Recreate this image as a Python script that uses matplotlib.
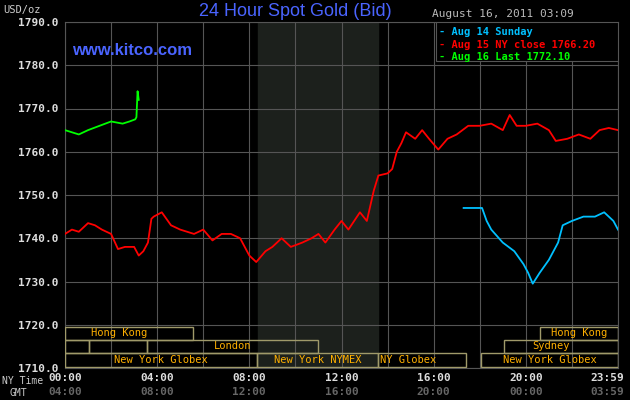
import matplotlib
matplotlib.use("Agg")
import matplotlib.pyplot as plt
from matplotlib.patches import Rectangle

red_t = [0,0.3,0.6,1,1.3,1.6,2,2.3,2.6,3,3.2,3.4,3.6,3.75,3.85,4.2,4.6,5,5.3,5.6,6,6.4,6.8,7.2,7.6,8,8.3,8.7,9,9.4,9.8,10.3,10.7,11,11.3,11.7,12,12.3,12.8,13.1,13.4,13.6,14,14.2,14.4,14.6,14.8,15.2,15.5,15.8,16.2,16.6,17,17.5,18,18.5,19,19.3,19.6,20,20.5,21,21.3,21.8,22.3,22.8,23.2,23.6,24]
red_v = [1741,1742,1741.5,1743.5,1743,1742,1741,1737.5,1738,1738,1736,1737,1739,1744.5,1745,1746,1743,1742,1741.5,1741,1742,1739.5,1741,1741,1740,1736,1734.5,1737,1738,1740,1738,1739,1740,1741,1739,1742,1744,1742,1746,1744,1751,1754.5,1755,1756,1760,1762,1764.5,1763,1765,1763,1760.5,1763,1764,1766,1766,1766.5,1765,1768.5,1766,1766,1766.5,1765,1762.5,1763,1764,1763,1765,1765.5,1765]
cyan_t = [17.3,18.1,18.3,18.5,19,19.5,19.9,20.1,20.3,20.6,21,21.4,21.6,22,22.5,23,23.4,23.8,24]
cyan_v = [1747,1747,1744,1742,1739,1737,1734,1732,1729.5,1732,1735,1739,1743,1744,1745,1745,1746,1744,1742]
green_t = [0,0.3,0.6,1,1.5,2,2.5,2.8,3.05,3.1,3.15,3.2]
green_v = [1765,1764.5,1764,1765,1766,1767,1766.5,1767,1767.5,1768,1774,1772]
y_ticks = [1710,1720,1730,1740,1750,1760,1770,1780,1790]
x_ticks = [0,4,8,12,16,20,24]
ny_labels = ["00:00","04:00","08:00","12:00","16:00","20:00","23:59"]
gmt_labels = ["04:00","08:00","12:00","16:00","20:00","00:00","03:59"]
sessions = [(0,5.56,2,"Hong Kong",0.2),(20.6,24,2,"Hong Kong",None),
            (0,1.04,1,"",None),(1.04,3.56,1,"",None),(3.56,11.0,1,"London",None),(19.05,24,1,"Sydney",0.25),
            (0,8.33,0,"New York Globex",None),(8.33,13.58,0,"New York NYMEX",None),
            (13.58,17.4,0,"NY Globex",0.05),(18.06,24,0,"New York Globex",None)]
rows = [(1710.3,1713.5),(1713.5,1716.5),(1716.5,1719.5)]

mono = "DejaVu Sans Mono"
fig = plt.figure(figsize=(6.3,4.0), dpi=100, facecolor="black")
ax = fig.add_axes([65/630, 32/400, 553/630, 346/400], facecolor="black")
ax.set_xlim(0,24); ax.set_ylim(1710,1790)
ax.axvspan(8.38,13.6,color="#1c201c",zorder=0)
for t in range(0,25,2):
    ax.axvline(t,color="#555555",lw=0.8,zorder=1)
for y in y_ticks:
    ax.axhline(y,color="#555555",lw=0.8,zorder=1)
for s,e,r,lab,al in sessions:
    y0,y1 = rows[r]
    ax.add_patch(Rectangle((s,y0),e-s,y1-y0,fill=False,ec="#a09a6a",lw=1,zorder=3))
    if lab:
        if al is None:
            ax.text((s+e)/2,(y0+y1)/2,lab,color="#ffb000",fontsize=7.5,family=mono,ha="center",va="center")
        else:
            ax.text(s+al*(e-s) if r!=0 else s+0.1,(y0+y1)/2,lab,color="#ffb000",fontsize=7.5,family=mono,ha="left",va="center")
ax.plot(red_t,red_v,color="#ff0000",lw=1.3,zorder=4)
ax.plot(cyan_t,cyan_v,color="#00c0ff",lw=1.3,zorder=4)
ax.plot(green_t,green_v,color="#00ff00",lw=1.3,zorder=4)
for sp in ax.spines.values():
    sp.set_color("#555555")
ax.set_xticks([]); ax.set_yticks(y_ticks)
ax.set_yticklabels([f"{v:.1f}" for v in y_ticks],family=mono,fontsize=8,color="#dddddd",fontweight="bold")
ax.tick_params(axis="y",length=0,pad=5)
for i,(t,a,b) in enumerate(zip(x_ticks,ny_labels,gmt_labels)):
    ha = "right" if i==len(x_ticks)-1 else "center"
    xx = t+0.25 if i==len(x_ticks)-1 else t
    ax.text(xx,1707.6,a,ha=ha,va="center",color="#dddddd",family=mono,fontsize=8,fontweight="bold",clip_on=False)
    ax.text(xx,1704.5,b,ha=ha,va="center",color="#666666",family=mono,fontsize=8,fontweight="bold",clip_on=False)
fig.text(2/630,1-381/400,"NY Time",color="#cccccc",family=mono,fontsize=7,va="center")
fig.text(10/630,1-393/400,"GMT",color="#cccccc",family=mono,fontsize=7,va="center")
fig.text(3/630,1-10/400,"USD/oz",color="#cccccc",family=mono,fontsize=7.5,va="center")
fig.text(295/630,1-11/400,"24 Hour Spot Gold (Bid)",color="#4a64ff",fontsize=13,ha="center",va="center",family="Liberation Sans")
fig.text(432/630,1-14/400,"August 16, 2011 03:09",color="#bbbbbb",family=mono,fontsize=8,va="center")
ax.text(0.3,1783.5,"www.kitco.com",color="#4a64ff",fontsize=12,fontweight="bold",family="Liberation Sans",va="center",zorder=5)
ax.add_patch(Rectangle((16.1,1781),7.9,9,fc="black",ec="#555555",lw=0.8,zorder=5))
for i,(txt,c) in enumerate([("Aug 14 Sunday","#00c0ff"),("Aug 15 NY close 1766.20","#ff0000"),("Aug 16 Last 1772.10","#00ff00")]):
    ax.text(16.25,1787.6-i*2.9,"- "+txt,color=c,family=mono,fontsize=7.5,fontweight="bold",va="center",zorder=6)
fig.savefig("out.png",facecolor="black")
